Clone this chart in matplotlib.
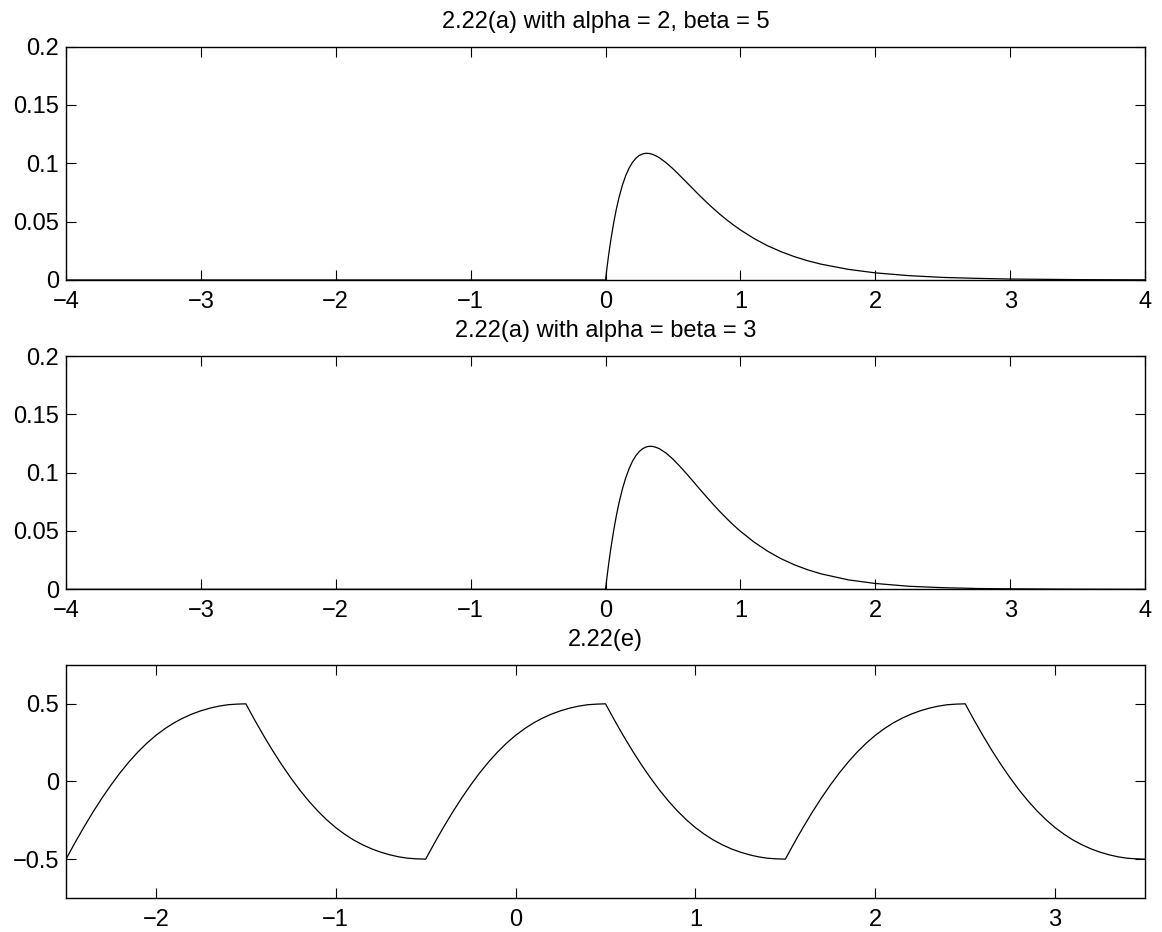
import numpy as np
import matplotlib
matplotlib.use('Agg')
import matplotlib.pyplot as plt

plt.rcParams['font.family'] = ['Liberation Sans', 'DejaVu Sans']
plt.rcParams['font.size'] = 17

# 2.22(a) alpha=2, beta=5
t1 = [-4, 0, 0.01, 0.02, 0.03, 0.04, 0.06, 0.08, 0.1, 0.125, 0.15, 0.175, 0.2, 0.225, 0.25,
      0.275, 0.3, 0.325, 0.35, 0.375, 0.4, 0.45, 0.5, 0.55, 0.6, 0.65, 0.7, 0.75, 0.8, 0.85,
      0.9, 0.95, 1.0, 1.1, 1.2, 1.3, 1.4, 1.5, 1.6, 1.8, 2.0, 2.25, 2.5, 2.75, 3.0, 3.5, 4.0]
y1 = [0, 0, 0.0097, 0.0187, 0.0270, 0.0348, 0.0487, 0.0606, 0.0707, 0.0812, 0.0895, 0.0959,
      0.1008, 0.1043, 0.1067, 0.1080, 0.1086, 0.1084, 0.1076, 0.1063, 0.1047, 0.1004, 0.0953,
      0.0896, 0.0838, 0.0779, 0.0721, 0.0665, 0.0612, 0.0561, 0.0514, 0.0470, 0.0429, 0.0356,
      0.0294, 0.0243, 0.0200, 0.0164, 0.0135, 0.0091, 0.0061, 0.0037, 0.0022, 0.0014, 0.0008,
      0.0003, 0.0001]

# 2.22(a) alpha=beta=3
t2 = t1
y2 = [0, 0, 0.0097, 0.0188, 0.0274, 0.0355, 0.0501, 0.0629, 0.0741, 0.0859, 0.0956, 0.1035,
      0.1098, 0.1146, 0.1181, 0.1205, 0.1220, 0.1226, 0.1225, 0.1217, 0.1205, 0.1167, 0.1116,
      0.1056, 0.0992, 0.0925, 0.0857, 0.0791, 0.0726, 0.0664, 0.0605, 0.0549, 0.0498, 0.0406,
      0.0328, 0.0263, 0.0210, 0.0167, 0.0132, 0.0081, 0.0050, 0.0026, 0.0014, 0.0007, 0.0004,
      0.0001, 0.0]

# 2.22(e), one rising and one falling half period (step 0.05)
rise = [-0.5, -0.394, -0.293, -0.197, -0.107, -0.023, 0.055, 0.126, 0.19, 0.247, 0.297,
        0.34, 0.377, 0.408, 0.434, 0.455, 0.472, 0.485, 0.494, 0.498, 0.5]
fall = [0.5, 0.394, 0.293, 0.197, 0.107, 0.023, -0.055, -0.126, -0.19, -0.247, -0.297,
        -0.34, -0.377, -0.408, -0.434, -0.455, -0.472, -0.485, -0.494, -0.498, -0.5]
t3 = np.linspace(-2.5, 3.5, 121)
y3 = rise + fall[1:] + rise[1:] + fall[1:] + rise[1:] + fall[1:]

titles = ['2.22(a) with alpha = 2, beta = 5', '2.22(a) with alpha = beta = 3', '2.22(e)']
xt_ab = [-4, -3, -2, -1, 0, 1, 2, 3, 4]
xl_ab = ['\u22124', '\u22123', '\u22122', '\u22121', '0', '1', '2', '3', '4']
yt_ab = [0, 0.05, 0.1, 0.15, 0.2]
yl_ab = ['0', '0.05', '0.1', '0.15', '0.2']
xt_e = [-2, -1, 0, 1, 2, 3]
xl_e = ['\u22122', '\u22121', '0', '1', '2', '3']
yt_e = [-0.5, 0, 0.5]
yl_e = ['\u22120.5', '0', '0.5']

fig = plt.figure(figsize=(11.62, 9.32), dpi=100)
pos = [[0.0568, 0.6996, 0.9286, 0.2504],
       [0.0568, 0.3677, 0.9286, 0.2503],
       [0.0568, 0.0365, 0.9286, 0.2500]]

axs = [fig.add_axes(p) for p in pos]
axs[0].plot(t1, y1, color='k', lw=0.9)
axs[1].plot(t2, y2, color='k', lw=0.9)
axs[2].plot(t3, y3, color='k', lw=0.9)

for i, ax in enumerate(axs):
    if i < 2:
        ax.set_xlim(-4, 4)
        ax.set_ylim(0, 0.2)
        ax.set_xticks(xt_ab)
        ax.set_xticklabels(xl_ab)
        ax.set_yticks(yt_ab)
        ax.set_yticklabels(yl_ab)
    else:
        ax.set_xlim(-2.5, 3.5)
        ax.set_ylim(-0.75, 0.75)
        ax.set_xticks(xt_e)
        ax.set_xticklabels(xl_e)
        ax.set_yticks(yt_e)
        ax.set_yticklabels(yl_e)
    ax.set_title(titles[i], pad=13.5, fontsize=17)
    ax.tick_params(direction='in', top=True, right=True, length=7.2, width=0.8)
    ax.tick_params(axis='x', pad=8)
    ax.tick_params(axis='y', pad=5)
    for s in ax.spines.values():
        s.set_linewidth(1.0)

fig.savefig('out.png', dpi=100)
